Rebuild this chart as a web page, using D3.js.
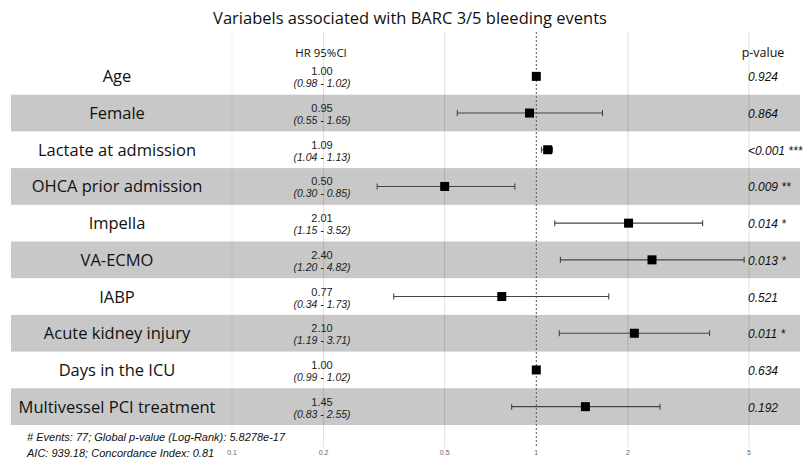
<!DOCTYPE html>
<html>
<head>
<meta charset="utf-8">
<script src="https://cdn.jsdelivr.net/npm/d3@7"></script>
<style>
  body { margin: 0; background: #fff; }
  svg { display: block; }
</style>
</head>
<body>
<div id="chart"></div>
<script>
// data
const variables = ["Age", "Female", "Lactate at admission", "OHCA prior admission", "Impella",
    "VA-ECMO", "IABP", "Acute kidney injury", "Days in the ICU", "Multivessel PCI treatment"];
const hr = [1.00, 0.95, 1.09, 0.50, 2.01, 2.40, 0.77, 2.10, 1.00, 1.45];
const ciLow = [0.98, 0.55, 1.04, 0.30, 1.15, 1.20, 0.34, 1.19, 0.99, 0.83];
const ciHigh = [1.02, 1.65, 1.13, 0.85, 3.52, 4.82, 1.73, 3.71, 1.02, 2.55];
const pValues = ["0.924", "0.864", "<0.001 ***", "0.009 **", "0.014 *", "0.013 *", "0.521", "0.011 *", "0.634", "0.192"];
const tickValues = [0.1, 0.2, 0.5, 1, 2, 5];
const footer = ["# Events: 77; Global p-value (Log-Rank): 5.8278e-17", "AIC: 939.18; Concordance Index: 0.81"];

const width = 805, height = 463;

let svg = d3.select("#chart").append("svg")
    .attr("width", width)
    .attr("height", height);

let x = d3.scaleLog().domain([0.1, 5]).range([232, 749]);
let y = d3.scaleBand().domain(variables).range([58, 425]);

let rows = variables.map((v, i) => ({ name: v, hr: hr[i], lo: ciLow[i], hi: ciHigh[i], p: pValues[i], i: i }));

// title
svg.append("text")
    .attr("x", 410).attr("y", 24)
    .attr("text-anchor", "middle")
    .style("font-family", "Open Sans")
    .style("font-size", "16.5px")
    .attr("fill", "#111")
    .text("Variabels associated with BARC 3/5 bleeding events");

// striped bands
svg.append("g")
    .selectAll("rect")
    .data(rows.filter(d => d.i % 2 == 1))
    .enter().append("rect")
    .attr("x", 11)
    .attr("width", 789)
    .attr("y", d => y(d.name))
    .attr("height", y.bandwidth())
    .attr("fill", "#c8c8c8");

// grid lines (0.1 is barely visible in the original)
svg.append("g")
    .selectAll("line")
    .data(tickValues.filter(t => t != 1))
    .enter().append("line")
    .attr("x1", d => x(d)).attr("x2", d => x(d))
    .attr("y1", 32).attr("y2", 447)
    .attr("stroke", d => d == 0.1 ? "rgba(0,0,0,0.06)" : "rgba(0,0,0,0.13)")
    .attr("stroke-width", 1);

// reference line at HR = 1
svg.append("line")
    .attr("x1", x(1)).attr("x2", x(1))
    .attr("y1", 32).attr("y2", 447)
    .attr("stroke", "#555")
    .attr("stroke-dasharray", "2,2");

// column headers
svg.append("text")
    .attr("x", 321).attr("y", 57)
    .attr("text-anchor", "middle")
    .style("font-family", "Open Sans")
    .style("font-size", "11.5px")
    .attr("fill", "#111")
    .text("HR 95%CI");

svg.append("text")
    .attr("x", 763).attr("y", 57)
    .attr("text-anchor", "middle")
    .style("font-family", "Open Sans")
    .style("font-size", "12.5px")
    .attr("fill", "#111")
    .text("p-value");

let row = svg.selectAll(".row")
    .data(rows)
    .enter().append("g")
    .attr("class", "row")
    .attr("transform", d => "translate(0," + (y(d.name) + y.bandwidth() / 2) + ")");

// variable names
row.append("text")
    .attr("x", 117).attr("y", 6)
    .attr("text-anchor", "middle")
    .style("font-family", "Open Sans")
    .style("font-size", "16.5px")
    .attr("fill", "#111")
    .text(d => d.name);

// HR and CI text
row.append("text")
    .attr("x", 322).attr("y", -1)
    .attr("text-anchor", "middle")
    .style("font-family", "Liberation Sans")
    .style("font-size", "11px")
    .attr("fill", "#222")
    .text(d => d.hr.toFixed(2));

row.append("text")
    .attr("x", 322).attr("y", 11)
    .attr("text-anchor", "middle")
    .style("font-family", "Liberation Sans")
    .style("font-size", "10.5px")
    .style("font-style", "italic")
    .attr("fill", "#222")
    .text(d => "(" + d.lo.toFixed(2) + " - " + d.hi.toFixed(2) + ")");

// whiskers
row.append("line")
    .attr("x1", d => x(d.lo)).attr("x2", d => x(d.hi))
    .attr("y1", 0).attr("y2", 0)
    .attr("stroke", "#444")
    .attr("stroke-width", 1.1);

row.selectAll(".cap")
    .data(d => [d.lo, d.hi])
    .enter().append("line")
    .attr("class", "cap")
    .attr("x1", d => x(d)).attr("x2", d => x(d))
    .attr("y1", -3).attr("y2", 3)
    .attr("stroke", "#444")
    .attr("stroke-width", 1.1);

// point estimate squares
row.append("rect")
    .attr("x", d => x(d.hr) - 4.5)
    .attr("y", -4.5)
    .attr("width", 9).attr("height", 9)
    .attr("fill", "#000");

// p-values
row.append("text")
    .attr("x", 748).attr("y", 5)
    .style("font-family", "Liberation Sans")
    .style("font-size", "12px")
    .style("font-style", "italic")
    .attr("fill", "#111")
    .text(d => d.p);

// axis tick labels
svg.append("g")
    .selectAll("text")
    .data(tickValues)
    .enter().append("text")
    .attr("x", d => x(d)).attr("y", 455)
    .attr("text-anchor", "middle")
    .style("font-family", "Liberation Sans")
    .style("font-size", "7px")
    .attr("fill", "#666")
    .text(d => d);

// footer
svg.append("g")
    .selectAll("text")
    .data(footer)
    .enter().append("text")
    .attr("x", 27).attr("y", (d, i) => 441 + i * 16)
    .style("font-family", "Liberation Sans")
    .style("font-size", "11px")
    .style("font-style", "italic")
    .attr("fill", "#111")
    .text(d => d);
</script>
</body>
</html>
